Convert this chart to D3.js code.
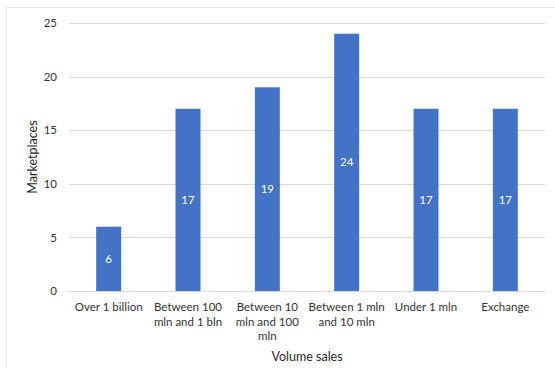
<!DOCTYPE html>
<html>
<head>
<meta charset="utf-8">
<script src="https://cdn.jsdelivr.net/npm/d3@7"></script>
<style>
  html, body { margin: 0; padding: 0; background: #fff; }
  svg { display: block; font-family: Lato, "Open Sans", sans-serif; }
</style>
</head>
<body>
<svg id="chart" width="555" height="368"></svg>
<script>
// Category labels (line breaks as they wrap under the axis)
const categories = [
  "Over 1 billion",
  "Between 100\nmln and 1 bln",
  "Between 10\nmln and 100\nmln",
  "Between 1 mln\nand 10 mln",
  "Under 1 mln",
  "Exchange"
];
const marketplaces = [6, 17, 19, 24, 17, 17];
const yTicks = [0, 5, 10, 15, 20, 25];

const svg = d3.select("#chart");
const margin = { left: 69, right: 10, top: 23, bottom: 77 };
const W = 555, H = 368;

// Outer frame
svg.append("rect")
  .attr("x", 6.5).attr("y", 7.5)
  .attr("width", 560).attr("height", 380)
  .attr("fill", "none").attr("stroke", "#e6e6e6");

const x = d3.scaleBand()
  .domain(categories)
  .range([margin.left, W - margin.right])
  .paddingInner(0.685)
  .paddingOuter(0.3425);

const y = d3.scaleLinear()
  .domain([0, 25])
  .range([H - margin.bottom, margin.top]);

// Gridlines
svg.append("g")
  .selectAll("line")
  .data(yTicks)
  .join("line")
  .attr("x1", margin.left).attr("x2", W - margin.right)
  .attr("y1", d => Math.round(y(d)) + 0.5).attr("y2", d => Math.round(y(d)) + 0.5)
  .attr("stroke", "#d9d9d9").attr("stroke-width", 1);

// Y axis labels
const yAxis = svg.append("g")
  .attr("transform", `translate(${margin.left},0)`)
  .call(d3.axisLeft(y).tickValues(yTicks).tickSize(0).tickPadding(12));
yAxis.select(".domain").remove();
yAxis.selectAll("text")
  .attr("font-size", 11.5).attr("fill", "#333333")
  .attr("font-family", "Lato, sans-serif");

// Bars
svg.append("g")
  .selectAll("rect")
  .data(categories)
  .join("rect")
  .attr("x", d => x(d))
  .attr("width", x.bandwidth())
  .attr("y", (d, i) => y(marketplaces[i]))
  .attr("height", (d, i) => y(0) - y(marketplaces[i]))
  .attr("fill", "#4472c4");

// Value labels inside bars
svg.append("g")
  .selectAll("text")
  .data(categories)
  .join("text")
  .attr("x", d => x(d) + x.bandwidth() / 2)
  .attr("y", (d, i) => (y(0) + y(marketplaces[i])) / 2)
  .attr("dy", "0.35em")
  .attr("text-anchor", "middle")
  .attr("font-size", 11.5)
  .attr("fill", "#ffffff")
  .text((d, i) => marketplaces[i]);

// X axis labels, wrapped
const xl = svg.append("g")
  .selectAll("text")
  .data(categories)
  .join("text")
  .attr("x", d => x(d) + x.bandwidth() / 2)
  .attr("y", 311)
  .attr("text-anchor", "middle")
  .attr("font-size", 11.5)
  .attr("fill", "#333333");
xl.selectAll("tspan")
  .data(d => d.split("\n").map(t => ({ t, c: d })))
  .join("tspan")
  .attr("x", d => x(d.c) + x.bandwidth() / 2)
  .attr("dy", (d, i) => i === 0 ? 0 : 14.5)
  .text(d => d.t);

// Axis titles
svg.append("text")
  .attr("x", (margin.left + W - margin.right) / 2)
  .attr("y", 361)
  .attr("text-anchor", "middle")
  .attr("font-size", 12.5)
  .attr("fill", "#1f1f1f")
  .text("Volume sales");

svg.append("text")
  .attr("transform", `translate(37,${(y(0) + y(25)) / 2}) rotate(-90)`)
  .attr("text-anchor", "middle")
  .attr("font-size", 12.5)
  .attr("fill", "#1f1f1f")
  .text("Marketplaces");
</script>
</body>
</html>
